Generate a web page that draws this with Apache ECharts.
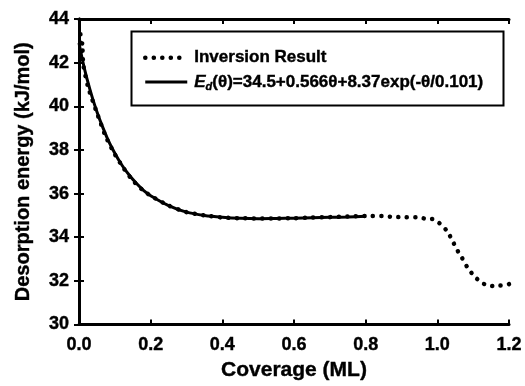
<!DOCTYPE html>
<html>
<head>
<meta charset="utf-8">
<script src="https://cdn.jsdelivr.net/npm/echarts@6/dist/echarts.min.js"></script>
<style>html,body{margin:0;padding:0;background:#fff}#c{width:525px;height:386px}</style>
</head>
<body>
<div id="c"></div>
<script>
// Inversion result (dotted)
var inversionX = [0.004, 0.006, 0.009, 0.012, 0.025, 0.05, 0.075, 0.1, 0.125, 0.15, 0.175, 0.2, 0.25, 0.3, 0.35, 0.4, 0.45, 0.5, 0.55, 0.6, 0.65, 0.7, 0.75, 0.8, 0.845, 0.87, 0.9, 0.94, 0.967, 0.99, 1.012, 1.028, 1.042, 1.054, 1.069, 1.083, 1.102, 1.125, 1.149, 1.172, 1.19, 1.2];
var inversionY = [43.3, 42.5, 42.9, 41.9, 40.9, 39.7, 38.6, 37.8, 37.15, 36.6, 36.2, 35.9, 35.45, 35.15, 35.0, 34.9, 34.87, 34.86, 34.86, 34.87, 34.9, 34.92, 34.95, 34.97, 34.97, 34.94, 34.92, 34.92, 34.85, 34.82, 34.56, 34.26, 33.85, 33.45, 33.05, 32.64, 32.23, 31.9, 31.76, 31.79, 31.79, 31.85];
// Fitted curve (solid)
var fitX = [0, 0.01, 0.02, 0.03, 0.04, 0.05, 0.06, 0.08, 0.1, 0.12, 0.14, 0.16, 0.18, 0.2, 0.25, 0.3, 0.35, 0.4, 0.45, 0.5, 0.55, 0.6, 0.65, 0.7, 0.75, 0.8];
var fitY = [42.9, 42.1, 41.4, 40.8, 40.25, 39.75, 39.3, 38.5, 37.85, 37.3, 36.85, 36.47, 36.15, 35.9, 35.45, 35.15, 35.0, 34.92, 34.87, 34.85, 34.86, 34.87, 34.89, 34.91, 34.93, 34.96];
var seriesNames = ['Inversion Result', 'fit'];
var xTitle = 'Coverage (ML)';
var yTitle = 'Desorption energy (kJ/mol)';

function pairs(xs, ys) { return xs.map(function (x, i) { return [x, ys[i]]; }); }

var FONT = '"Liberation Sans", Arial, sans-serif';
var chart = echarts.init(document.getElementById('c'), null, { renderer: 'canvas' });

var axisCommon = {
  axisLine: { show: true, lineStyle: { color: '#000', width: 3 } },
  axisTick: { show: true, inside: true, length: 5, lineStyle: { color: '#000', width: 2 } },
  splitLine: { show: false }
};
var bold = { fontFamily: FONT, fontWeight: 'bold', color: '#000', textBorderColor: '#000', textBorderWidth: 0.4 };

var dottedStyle = { color: '#000', width: 4.5, type: [0.1, 8.4], cap: 'round' };

chart.setOption({
  animation: false,
  backgroundColor: '#fff',
  grid: { left: 79, right: 16, top: 19, bottom: 58 },
  xAxis: [
    Object.assign({
      type: 'value', min: 0, max: 1.2, interval: 0.2, position: 'bottom',
      name: xTitle, nameLocation: 'middle', nameGap: 34,
      nameTextStyle: Object.assign({ fontSize: 21 }, bold),
      axisLabel: Object.assign({ margin: 12, fontSize: 18,
        formatter: function (v) { return v.toFixed(1); } }, bold)
    }, axisCommon),
    Object.assign({
      type: 'value', min: 0, max: 1.2, interval: 0.2, position: 'top',
      axisLabel: { show: false }
    }, axisCommon)
  ],
  yAxis: [
    Object.assign({
      type: 'value', min: 30, max: 44, interval: 2, position: 'left',
      name: yTitle, nameLocation: 'middle', nameGap: 46, nameRotate: 90,
      nameTextStyle: Object.assign({ fontSize: 20 }, bold),
      axisLabel: Object.assign({ margin: 10, fontSize: 18 }, bold)
    }, axisCommon),
    Object.assign({
      type: 'value', min: 30, max: 44, interval: 2, position: 'right',
      axisLabel: { show: false }
    }, axisCommon)
  ],
  legend: {
    orient: 'vertical', left: 138, top: 44,
    itemWidth: 42, itemHeight: 14, itemGap: 7,
    itemStyle: { color: 'transparent', opacity: 0, borderWidth: 0 },
    data: [
      { name: seriesNames[0], lineStyle: dottedStyle },
      { name: seriesNames[1], lineStyle: { color: '#000', width: 3 } }
    ],
    textStyle: {
      fontFamily: FONT, fontWeight: 'bold', fontSize: 17, color: '#000', padding: [0, 0, 0, 2],
      rich: {
        n: Object.assign({ fontSize: 17 }, bold),
        e: Object.assign({ fontSize: 17, fontStyle: 'italic' }, bold),
        s: Object.assign({ fontSize: 11, fontStyle: 'italic', verticalAlign: 'bottom', padding: [9, 0, 0, 0] }, bold)
      }
    },
    formatter: function (name) {
      if (name === 'fit') return '{e|E}{s|d}{n|(θ)=34.5+0.566θ+8.37exp(-θ/0.101)}';
      return '{n|' + name + '}';
    }
  },
  graphic: [{
    type: 'rect', left: 129, top: 29, z: 10,
    shape: { width: 372, height: 74 },
    style: { fill: 'none', stroke: '#000', lineWidth: 2 }
  }],
  series: [
    {
      name: seriesNames[0], type: 'line', xAxisIndex: 0, yAxisIndex: 0,
      data: pairs(inversionX, inversionY), symbol: 'none', smooth: 0.2,
      lineStyle: dottedStyle, itemStyle: { color: '#000' }, z: 3
    },
    {
      name: seriesNames[1], type: 'line', xAxisIndex: 0, yAxisIndex: 0,
      data: pairs(fitX, fitY), symbol: 'none', smooth: 0.3,
      lineStyle: { color: '#000', width: 3 },
      itemStyle: { color: '#000' }, z: 4
    }
  ]
});
</script>
</body>
</html>
